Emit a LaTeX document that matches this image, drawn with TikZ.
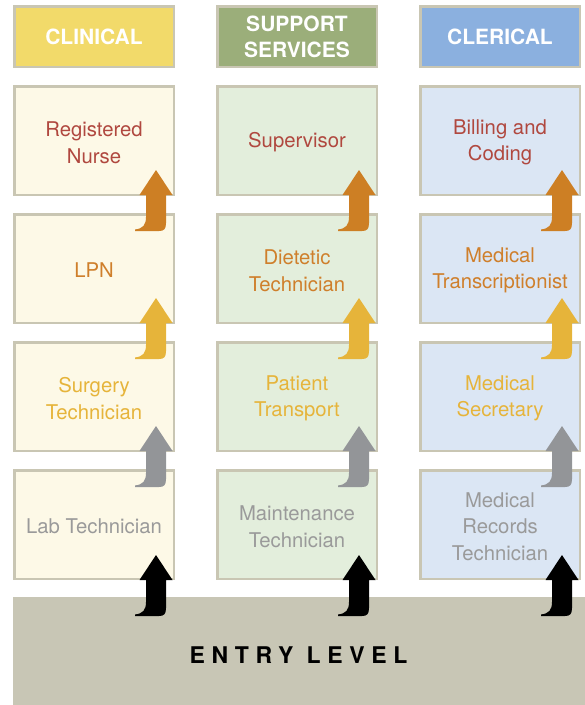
\documentclass[tikz,border=0pt]{standalone}
\usepackage{fontspec}
\setmainfont{TeX Gyre Heros}
\usetikzlibrary{calc}
\definecolor{bordc}{HTML}{C9C6B3}
\definecolor{bandc}{HTML}{C8C6B5}
\definecolor{hdrA}{HTML}{F2DA6A}
\definecolor{hdrB}{HTML}{9BAE7A}
\definecolor{hdrC}{HTML}{8BB0DF}
\definecolor{fillA}{HTML}{FDF9E7}
\definecolor{fillB}{HTML}{E3EEDC}
\definecolor{fillC}{HTML}{DBE6F4}
\definecolor{txtR}{HTML}{B0483F}
\definecolor{txtO}{HTML}{CF7F2B}
\definecolor{txtG}{HTML}{E6B43A}
\definecolor{txtY}{HTML}{9A9A9A}
\definecolor{arrO}{HTML}{CD7F24}
\definecolor{arrG}{HTML}{E6B43A}
\definecolor{arrY}{HTML}{939598}
\tikzset{
  hdr/.style={draw=bordc, line width=2.5pt, minimum width=159.5pt, minimum height=60.5pt,
    inner sep=0pt, text=white, align=center, font=\fontsize{21}{26}\selectfont\bfseries},
  jobbox/.style={draw=bordc, line width=2.5pt, minimum width=159.5pt, minimum height=108.5pt,
    inner sep=0pt},
  jobtxt/.style={inner sep=0pt, align=center, yshift=-2pt, font=\fontsize{20.3}{26.5}\selectfont},
  uparr/.pic={\fill[pic actions] (0,0) -- (16.5,25) -- (10,25) -- (10,53)
     .. controls (10,59) and (8,61) .. (3,61) -- (-21,61) -- (-21,59.5)
     .. controls (-13,58.5) and (-10,55) .. (-10,47) -- (-10,25) -- (-16.5,25) -- cycle;}
}
\begin{document}
\begin{tikzpicture}[x=1pt,y=-1pt]
\useasboundingbox (0,0) rectangle (585,705);
% entry band
\node[fill=bandc, minimum width=572pt, minimum height=108pt, inner sep=0pt] (band) at (299,651) {};
\node[font=\fontsize{23}{26}\selectfont\bfseries\addfontfeature{LetterSpace=29}] (entry) at (298.5,655) {ENTRY LEVEL};
% headers
\node[hdr, fill=hdrA] (h1) at (94,36.5) {CLINICAL};
\node[hdr, fill=hdrB] (h2) at (297,36.5) {SUPPORT\\SERVICES};
\node[hdr, fill=hdrC] (h3) at (500,36.5) {CLERICAL};
% column 1
\node[jobbox, fill=fillA, label={[jobtxt, text=txtR]center:{Registered\\Nurse}}] (b11) at (94,140.5) {};
\node[jobbox, fill=fillA, label={[jobtxt, text=txtO]center:{LPN}}] (b12) at (94,268.5) {};
\node[jobbox, fill=fillA, label={[jobtxt, text=txtG]center:{Surgery\\Technician}}] (b13) at (94,396.5) {};
\node[jobbox, fill=fillA, label={[jobtxt, text=txtY]center:{Lab Technician}}] (b14) at (94,524.5) {};
% column 2
\node[jobbox, fill=fillB, label={[jobtxt, text=txtR]center:{Supervisor}}] (b21) at (297,140.5) {};
\node[jobbox, fill=fillB, label={[jobtxt, text=txtO]center:{Dietetic\\Technician}}] (b22) at (297,268.5) {};
\node[jobbox, fill=fillB, label={[jobtxt, text=txtG]center:{Patient\\Transport}}] (b23) at (297,396.5) {};
\node[jobbox, fill=fillB, label={[jobtxt, text=txtY]center:{Maintenance\\Technician}}] (b24) at (297,524.5) {};
% column 3
\node[jobbox, fill=fillC, label={[jobtxt, text=txtR]center:{Billing and\\Coding}}] (b31) at (500,140.5) {};
\node[jobbox, fill=fillC, label={[jobtxt, text=txtO]center:{Medical\\Transcriptionist}}] (b32) at (500,268.5) {};
\node[jobbox, fill=fillC, label={[jobtxt, text=txtG]center:{Medical\\Secretary}}] (b33) at (500,396.5) {};
\node[jobbox, fill=fillC, label={[jobtxt, text=txtY]center:{Medical\\Records\\Technician}}] (b34) at (500,524.5) {};
% arrows
\foreach \c in {1,2,3}{
  \pic[fill=arrO] at ($(b\c1.south east)+(-19,-26)$) {uparr};
  \pic[fill=arrG] at ($(b\c2.south east)+(-19,-26)$) {uparr};
  \pic[fill=arrY] at ($(b\c3.south east)+(-19,-26)$) {uparr};
  \pic[fill=black] at ($(b\c4.south east)+(-19,-25)$) {uparr};
}
\end{tikzpicture}
\end{document}
